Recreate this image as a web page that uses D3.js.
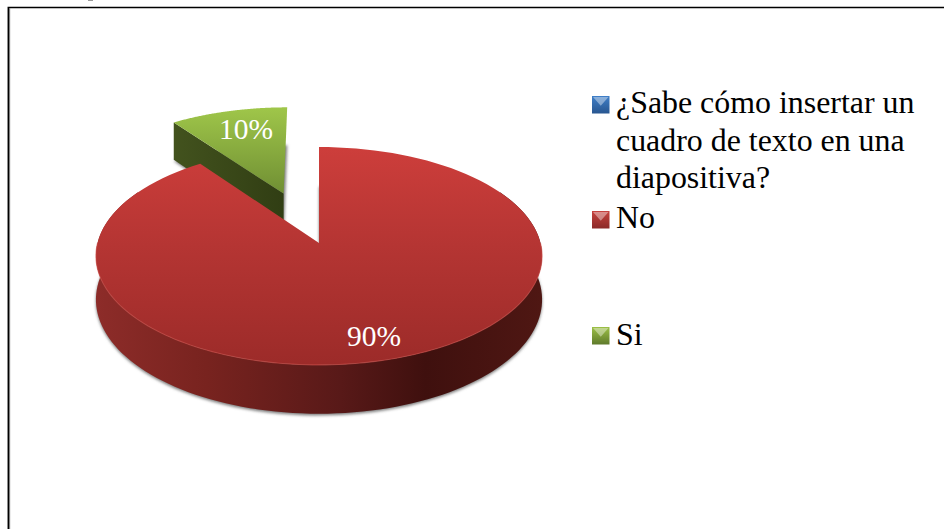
<!DOCTYPE html>
<html><head><meta charset="utf-8">
<script src="https://cdn.jsdelivr.net/npm/d3@7"></script>
<style>html,body{margin:0;padding:0;background:#fff;overflow:hidden}svg{display:block}</style>
</head><body><svg id="c" width="944" height="529"></svg>
<script>
const categories = ["¿Sabe cómo insertar un cuadro de texto en una diapositiva?", "No", "Si"];
const values = [0, 90, 10];
const labels = ["", "90%", "10%"];
const legendLines = [["¿Sabe cómo insertar un", "cuadro de texto en una", "diapositiva?"], ["No"], ["Si"]];
const explode = [0, 0, 0.515];

const svg = d3.select("#c");
const font = "'Liberation Serif','Times New Roman',serif";
const defs = svg.append("defs");

function linGrad(id, x1, y1, x2, y2, stops, units) {
  const g = defs.append("linearGradient").attr("id", id)
    .attr("gradientUnits", units || "userSpaceOnUse")
    .attr("x1", x1).attr("y1", y1).attr("x2", x2).attr("y2", y2);
  stops.forEach(s => g.append("stop").attr("offset", s[0]).attr("stop-color", s[1]));
}
linGrad("redTop", 0, 147, 0, 365, [[0, "#cd3e3b"], [0.45, "#b53533"], [1, "#9c2b29"]]);
linGrad("redSide", 95, 0, 542, 0, [[0, "#8d2c29"], [0.25, "#78231f"], [0.55, "#581918"], [0.74, "#3f100e"], [1, "#4f1713"]]);
linGrad("greenTop", 0, 106, 0, 195, [[0, "#a0c74a"], [1, "#6f8e33"]]);
linGrad("greenSide", 171, 0, 287, 0, [[0, "#43531e"], [1, "#303d13"]]);
linGrad("sw0", 0, 0, 0, 1, [[0, "#3f7fc8"], [1, "#285690"]], "objectBoundingBox");
linGrad("sw1", 0, 0, 0, 1, [[0, "#c8423e"], [1, "#8b2a28"]], "objectBoundingBox");
linGrad("sw2", 0, 0, 0, 1, [[0, "#9cc045"], [1, "#5f7a2c"]], "objectBoundingBox");
defs.append("filter").attr("id", "blur").attr("x", "-10%").attr("y", "-10%").attr("width", "120%").attr("height", "120%")
  .append("feGaussianBlur").attr("stdDeviation", 1.6);

// perspective projection of the pie plane
const cx = 319, cy = 243, bx = 221.5, by = 107.4, k = 0.119, depth = 43;
function project(u, v, drop) {
  const s = 1 / (1 - k * v);
  return [cx + bx * u * s, cy + by * v * s + (drop || 0) * s];
}
const rim = (a, o, drop) => project(Math.sin(a) + o[0], -Math.cos(a) + o[1], drop);
const arcPts = (a0, a1, o, drop) => d3.range(0, 121).map(i => rim(a0 + (a1 - a0) * i / 120, o, drop));
const line = d3.line();

const pie = d3.pie().sort(null).value(d => d)(values);
const slices = pie.map((p, i) => {
  const mid = (p.startAngle + p.endAngle) / 2 - (explode[i] ? 0.02 : 0);
  return { ...p, i, mid, o: [Math.sin(mid) * explode[i], -Math.cos(mid) * explode[i]] };
}).filter(s => s.value > 0);
const red = slices.find(s => s.i === 1), green = slices.find(s => s.i === 2);

const wedge = (s, drop) => line([project(s.o[0], s.o[1], drop), ...arcPts(s.startAngle, s.endAngle, s.o, drop)]) + "Z";

// frame
svg.append("path").attr("d", "M8.3,529V7.5H944").attr("fill", "none").attr("stroke", "#000").attr("stroke-width", 1.5);
svg.append("line").attr("x1", 9.6).attr("x2", 9.6).attr("y1", 8).attr("y2", 529).attr("stroke", "#777").attr("stroke-width", 1.1);
svg.append("path").attr("d", "M88,0.5H93").attr("stroke", "#999").attr("stroke-width", 1);

// soft shadow: silhouette of each slice's underside
const shadow = svg.append("g").attr("filter", "url(#blur)").attr("fill", "#7c7c7c");
slices.forEach(s => shadow.append("path").attr("d", wedge(s, depth + 1.5)));

// green slice: dark cut face, then top
const gApex = [green.o[0], green.o[1]];
const gEnd = [Math.sin(green.startAngle) + green.o[0], -Math.cos(green.startAngle) + green.o[1]];
svg.append("path").attr("fill", "url(#greenSide)").attr("d", line([
  project(gApex[0], gApex[1]), project(gEnd[0], gEnd[1]),
  project(gEnd[0], gEnd[1], depth), project(gApex[0], gApex[1], depth)
]) + "Z");
svg.append("path").attr("fill", "url(#greenTop)").attr("d", wedge(green));

// red slice: curved wall then top
const wallA0 = Math.PI / 3, wallA1 = Math.PI * 5 / 3;
svg.append("path").attr("fill", "url(#redSide)").attr("d",
  line([...arcPts(wallA0, wallA1, red.o), ...arcPts(wallA1, wallA0, red.o, depth)]) + "Z");
svg.append("path").attr("fill", "url(#redTop)").attr("d", wedge(red));
// bevel highlight on front edge
svg.append("path").attr("fill", "none").attr("stroke", "#cf4f4a").attr("stroke-width", 1.1).attr("opacity", 0.6)
  .attr("d", line(arcPts(Math.PI * 0.5, Math.PI * 1.5, red.o)));

// data labels
const labelPos = { 1: [374, 346], 2: [246, 139] };
slices.forEach(s => svg.append("text").attr("x", labelPos[s.i][0]).attr("y", labelPos[s.i][1])
  .attr("text-anchor", "middle").attr("fill", "#fff").attr("font-family", font).attr("font-size", 29.5)
  .text(labels[s.i]));

// legend
const swatchY = [96, 211, 327], lineY = [113, 228, 345];
categories.forEach((c, i) => {
  const g = svg.append("g");
  const x = 592, y = swatchY[i], w = 17.5, h = 17.5;
  g.append("rect").attr("x", x).attr("y", y).attr("width", w).attr("height", h).attr("fill", `url(#sw${i})`);
  g.append("path").attr("fill", "#fff").attr("opacity", 0.4)
    .attr("d", line([[x + 1, y + 1], [x + w - 1, y + 1], [x + w / 2, y + h * 0.55]]) + "Z");
  legendLines[i].forEach((t, j) => g.append("text").attr("x", 616).attr("y", lineY[i] + j * 37.5)
    .attr("font-family", font).attr("font-size", 31.9).attr("fill", "#000").text(t));
});
</script></body></html>
